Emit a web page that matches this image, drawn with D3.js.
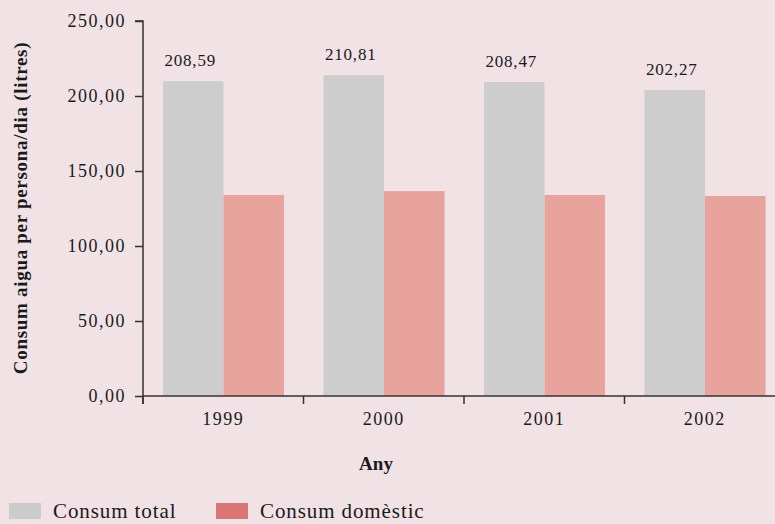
<!DOCTYPE html>
<html>
<head>
<meta charset="utf-8">
<script src="https://cdn.jsdelivr.net/npm/d3@7"></script>
<style>
  html, body { margin: 0; padding: 0; background: #f0e2e5; }
  svg { display: block; }
  text { font-family: "Liberation Serif", "DejaVu Serif", serif; fill: #1a1a1a; }
</style>
</head>
<body>
<svg id="chart" width="775" height="524"></svg>
<script>
const years = ["1999", "2000", "2001", "2002"];
const totalValues = [209.9, 213.9, 209.3, 203.9];
const domesticValues = [134.0, 136.6, 134.0, 133.3];
const totalLabels = ["208,59", "210,81", "208,47", "202,27"];
const yTicks = [0, 50, 100, 150, 200, 250];
const seriesNames = ["Consum total", "Consum domèstic"];
const yTitle = "Consum aigua per persona/dia (litres)";
const xTitle = "Any";

const barColors = ["#cdcdcd", "#e8a39c"];
const legendColors = ["#cccccc", "#dc7676"];

const svg = d3.select("#chart");
const W = 775, H = 524;
const plotLeft = 143, plotBottom = 396, plotTop = 21;
const bandW = 160.5;

const locale = d3.formatLocale({decimal: ",", thousands: ".", grouping: [3], currency: ["", "€"]});
const fmt = locale.format(".2f");

const x0 = d3.scaleBand().domain(years).range([plotLeft, plotLeft + bandW * years.length]).padding(0);
const x1 = d3.scaleBand().domain([0, 1]).range([20, bandW - 19.5]).padding(0);
const y = d3.scaleLinear().domain([0, 250]).range([plotBottom, plotTop]);

// bars
const g = svg.append("g");
years.forEach((yr, i) => {
  const vals = [totalValues[i], domesticValues[i]];
  vals.forEach((v, s) => {
    g.append("rect")
      .attr("x", x0(yr) + x1(s))
      .attr("y", y(v))
      .attr("width", x1.bandwidth())
      .attr("height", y(0) - y(v))
      .attr("fill", barColors[s]);
  });
  g.append("text")
    .attr("x", x0(yr) + x1(0) + x1.bandwidth() / 2 - 3)
    .attr("y", y(totalValues[i]) - 15)
    .attr("text-anchor", "middle")
    .attr("font-size", 17)
    .attr("letter-spacing", 0.8)
    .text(totalLabels[i]);
});

// y axis
const yAxis = d3.axisLeft(y).tickValues(yTicks).tickFormat(fmt).tickSize(8).tickPadding(9);
const gy = svg.append("g").attr("transform", `translate(${plotLeft},0)`).call(yAxis);
gy.select(".domain").attr("stroke", "#333").attr("stroke-width", 1.5).attr("d", `M-8,${plotTop}H0V${plotBottom + 8}`);
gy.selectAll(".tick line").attr("stroke", "#333").attr("stroke-width", 1.5);
gy.selectAll(".tick text").attr("font-size", 18).attr("letter-spacing", 1.5)
  .style("font-family", '"Liberation Serif", serif').attr("fill", "#1a1a1a");

// x axis
const xAxis = d3.axisBottom(x0).tickSize(0).tickPadding(16);
const gx = svg.append("g").attr("transform", `translate(0,${plotBottom})`).call(xAxis);
gx.select(".domain").attr("stroke", "#333").attr("stroke-width", 1.5).attr("d", `M${plotLeft},0H${W}`);
gx.selectAll(".tick text").attr("font-size", 18).attr("letter-spacing", 1.5)
  .style("font-family", '"Liberation Serif", serif').attr("fill", "#1a1a1a");
// band boundary ticks
gx.selectAll(".bticks").data(years).enter().append("line")
  .attr("x1", d => x0(d)).attr("x2", d => x0(d))
  .attr("y1", 0).attr("y2", 8)
  .attr("stroke", "#333").attr("stroke-width", 1.5);

// axis titles
svg.append("text")
  .attr("transform", `translate(27,208) rotate(-90)`)
  .attr("text-anchor", "middle")
  .attr("font-size", 19)
  .attr("letter-spacing", 0.7)
  .attr("font-weight", "bold")
  .text(yTitle);

svg.append("text")
  .attr("x", 376).attr("y", 470)
  .attr("text-anchor", "middle")
  .attr("font-size", 19)
  .attr("font-weight", "bold")
  .text(xTitle);

// legend
const legX = [9, 216];
seriesNames.forEach((name, i) => {
  svg.append("rect")
    .attr("x", legX[i]).attr("y", 503)
    .attr("width", 32).attr("height", 16)
    .attr("fill", legendColors[i]);
  svg.append("text")
    .attr("x", legX[i] + 44).attr("y", 518)
    .attr("font-size", 21)
    .attr("letter-spacing", 0.9)
    .text(name);
});
</script>
</body>
</html>
